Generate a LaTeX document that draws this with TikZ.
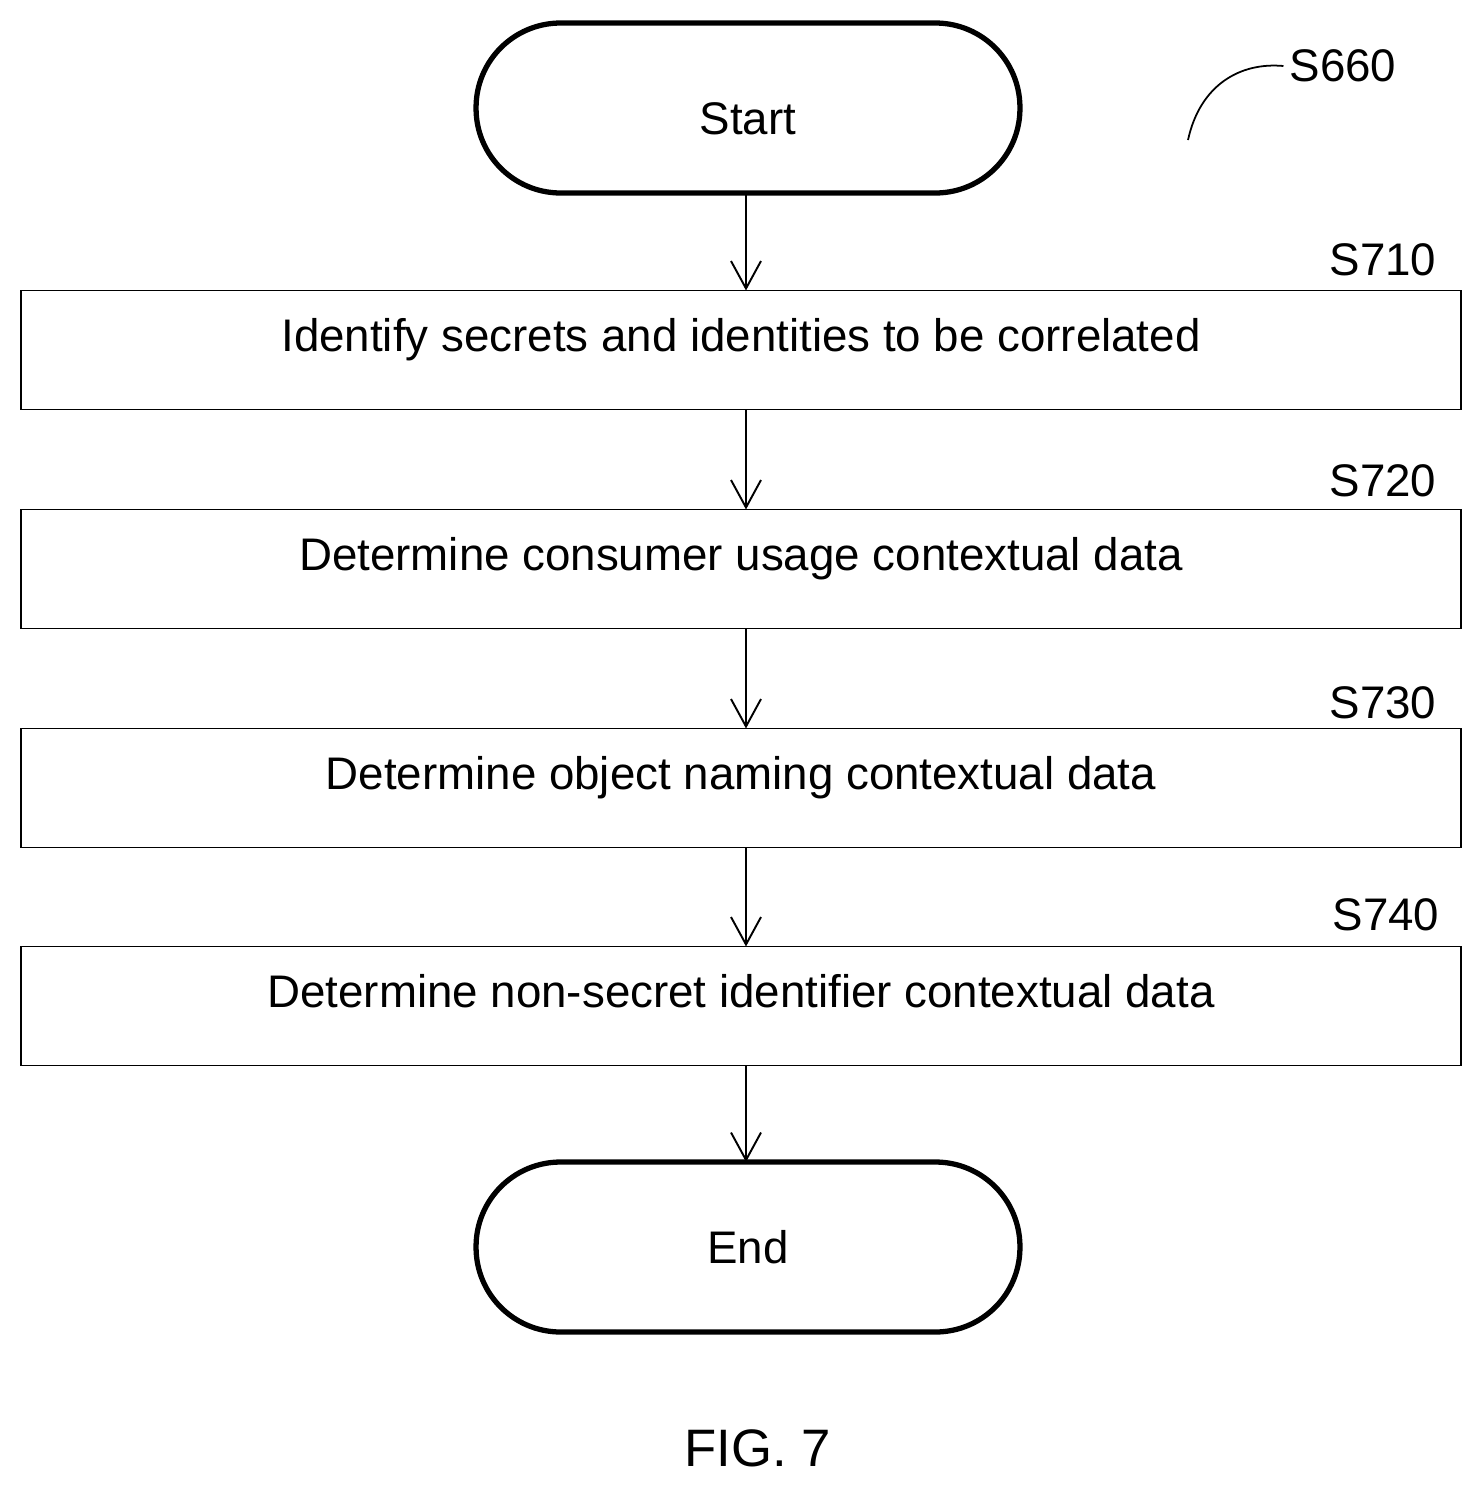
\documentclass[tikz,border=0pt]{standalone}
\usepackage{fontspec}
\setmainfont{Liberation Sans}
\usetikzlibrary{arrows.meta}
\tikzset{
  procbox/.style={rectangle, draw, line width=1.1pt, minimum width=28.8cm, minimum height=2.38cm, inner sep=0pt, outer sep=0pt, text depth=0.6cm, font=\fontsize{26}{30}\selectfont},
  term/.style={rectangle, draw, line width=3pt, rounded corners=1.69cm, minimum width=10.88cm, minimum height=3.4cm, inner sep=0pt, outer sep=0pt, font=\fontsize{26}{30}\selectfont},
  tag/.style={font=\fontsize{26}{30}\selectfont},
  flow/.style={line width=1.1pt, -{Straight Barb[length=0.55cm, width=0.6cm, line width=1.1pt]}}
}
\begin{document}
\begin{tikzpicture}[x=0.02cm, y=-0.02cm]
\useasboundingbox (0,0) rectangle (1483,1488);

\node[term, text height=1.05cm](start) at (748,108){Start};
\node[tag](tag660) at (1343,66){S660};
\coordinate (curveEnd) at (1188,140);
\draw[line width=1pt] (curveEnd) .. controls (1200,85) and (1240,62) .. (tag660.west);

\node[procbox](identify) at (741,350){Identify secrets and identities to be correlated};
\node[procbox](usage) at (741,569){Determine consumer usage contextual data};
\node[procbox](naming) at (741,788){Determine object naming contextual data};
\node[procbox](nonsecret) at (741,1006){Determine non-secret identifier contextual data};
\node[term](end) at (748,1247){End};

\node[tag](tag710) at (1383,260){S710};
\node[tag](tag720) at (1383,481){S720};
\node[tag](tag730) at (1383,703){S730};
\node[tag](tag740) at (1386,915){S740};

\draw[flow] (start.south -| 746,0) -- (identify.north -| 746,0);
\draw[flow] (identify.south -| 746,0) -- (usage.north -| 746,0);
\draw[flow] (usage.south -| 746,0) -- (naming.north -| 746,0);
\draw[flow] (naming.south -| 746,0) -- (nonsecret.north -| 746,0);
\draw[flow] (nonsecret.south -| 746,0) -- (end.north -| 746,0);

\node[tag, font=\fontsize{30}{34}\selectfont](fig) at (758,1448){FIG. 7};
\end{tikzpicture}
\end{document}
